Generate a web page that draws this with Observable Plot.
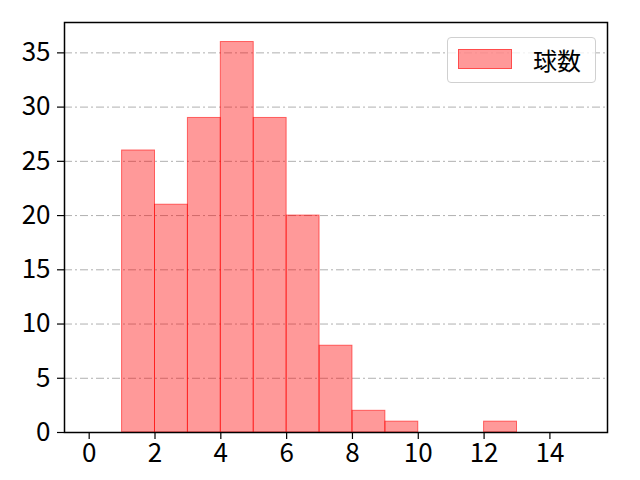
<!DOCTYPE html>
<html>
<head>
<meta charset="utf-8">
<script src="https://cdn.jsdelivr.net/npm/d3@7"></script>
<script src="https://cdn.jsdelivr.net/npm/@observablehq/plot@0.6"></script>
<style>
body { margin: 0; background: #fff; }
#chart { position: relative; width: 640px; height: 480px; }
#legend { position: absolute; left: 447px; top: 37px; width: 149px; height: 46px; box-sizing: border-box;
  border: 1px solid #d0d0d0; border-radius: 4px; background: rgba(255,255,255,0.8);
  font-family: "Noto Sans CJK JP", sans-serif; font-size: 24px; }
#legend .sw { position: absolute; left: 10px; top: 11px; width: 54px; height: 20px; background: rgba(255,0,0,0.4); border: 1px solid rgba(255,0,0,0.5); box-sizing: border-box; }
#legend .lb { position: absolute; left: 85px; top: 2px; line-height: 40px; color: #000; }
svg text { font-family: "Noto Sans CJK JP", sans-serif; font-size: 26px; }
</style>
</head>
<body>
<div id="chart"></div>
<script>
const binStart = [1, 2, 3, 4, 5, 6, 7, 8, 9, 10, 11, 12];
const binEnd   = [2, 3, 4, 5, 6, 7, 8, 9, 10, 11, 12, 13];
const counts   = [26, 21, 29, 36, 29, 20, 8, 2, 1, 0, 0, 1];
const xTicks = [0, 2, 4, 6, 8, 10, 12, 14];
const yTicks = [0, 5, 10, 15, 20, 25, 30, 35];
const seriesName = "球数";

const data = binStart.map((s, i) => ({x1: s, x2: binEnd[i], y: counts[i]})).filter(d => d.y > 0);

const plot = Plot.plot({
  width: 640, height: 480,
  marginLeft: 64, marginRight: 33, marginTop: 22, marginBottom: 48,
  style: {fontFamily: "Noto Sans CJK JP, sans-serif", fontSize: "26px", color: "#000", background: "#fff"},
  x: {domain: [-0.75, 15.75], label: null},
  y: {domain: [0, 37.8], label: null},
  marks: [
    Plot.ruleY(yTicks, {stroke: "#b0b0b0", strokeWidth: 1, strokeDasharray: "8,3,2,3"}),
    Plot.rectY(data, {x1: "x1", x2: "x2", y: "y", fill: "red", fillOpacity: 0.4, stroke: "red", strokeOpacity: 0.55, strokeWidth: 1, inset: 0}),
    Plot.frame({stroke: "#000", strokeWidth: 1.5}),
    Plot.axisX({ticks: xTicks, tickSize: 7, tickPadding: 4, tickFormat: d => String(d), label: null, strokeWidth: 1.2, fontSize: 26}),
    Plot.axisY({ticks: yTicks, tickSize: 7, tickPadding: 7, tickFormat: d => String(d), label: null, strokeWidth: 1.2, fontSize: 26})
  ]
});
const chart = document.getElementById("chart");
chart.appendChild(plot);
const leg = document.createElement("div");
leg.id = "legend";
leg.innerHTML = `<div class="sw"></div><div class="lb">${seriesName}</div>`;
chart.appendChild(leg);
</script>
</body>
</html>
